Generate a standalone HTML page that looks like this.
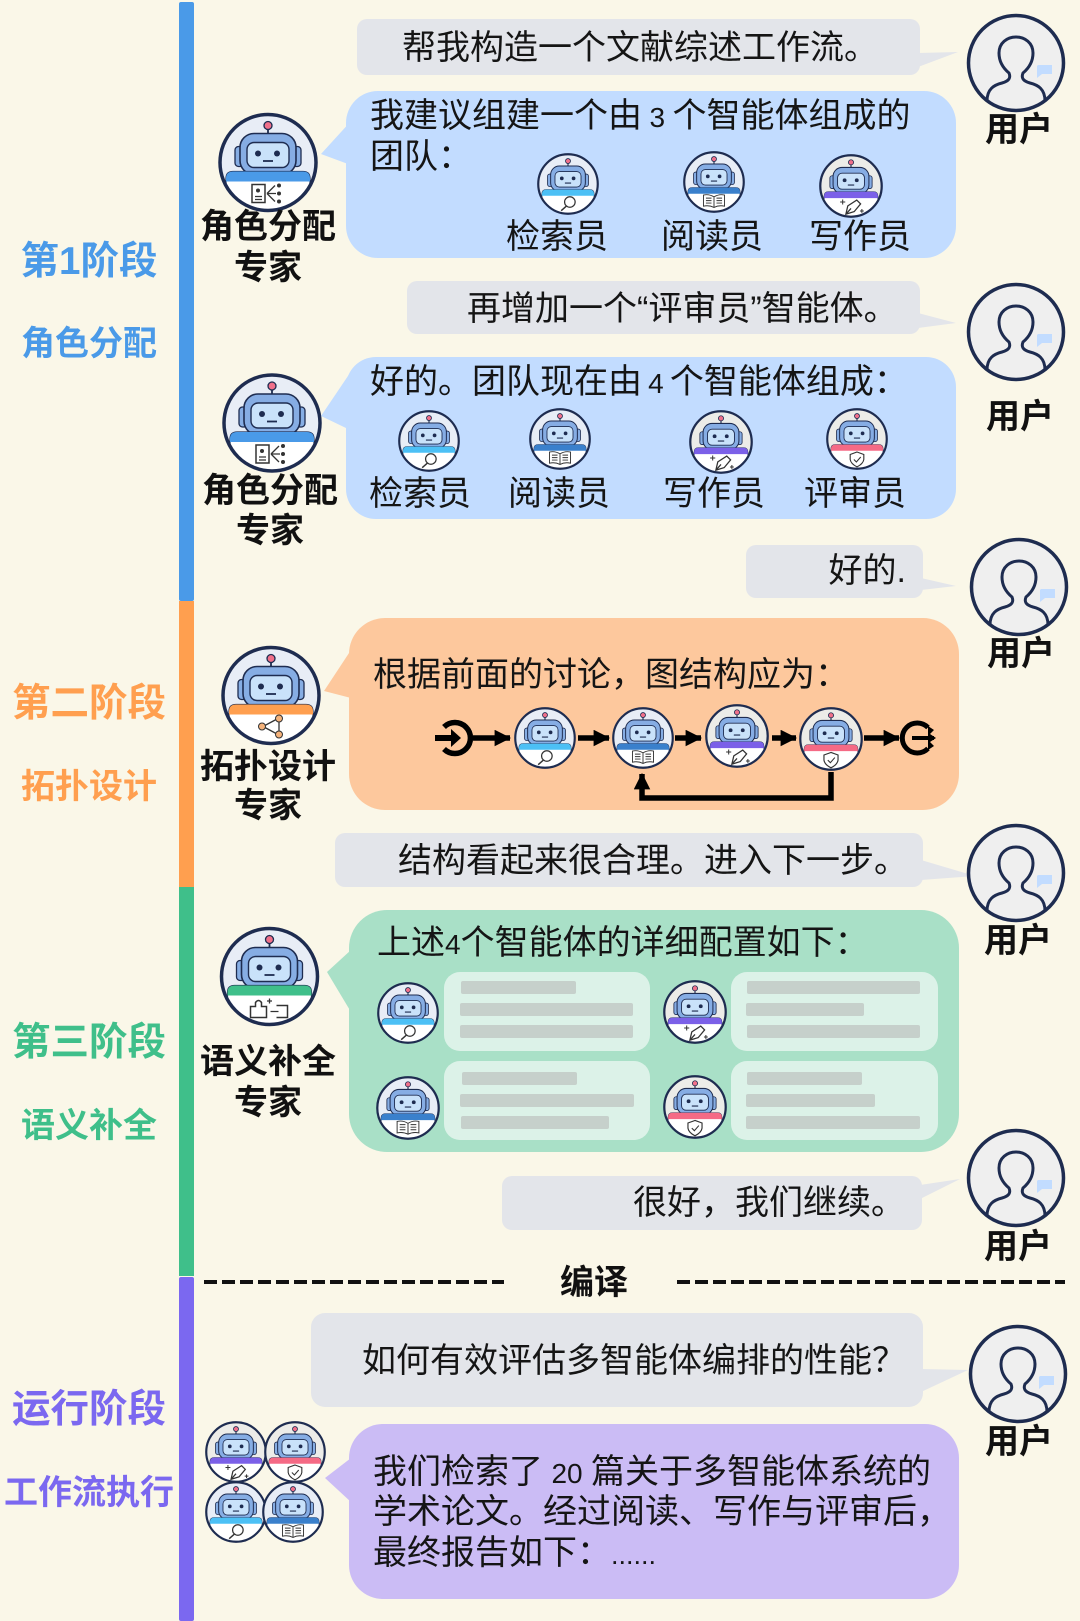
<!DOCTYPE html>
<html lang="zh"><head><meta charset="utf-8"><title>工作流</title>
<style>
html,body{margin:0;padding:0;background:#faf7e8}
svg{display:block}
text{font-family:"Liberation Sans","Noto Sans CJK SC",sans-serif}
.t{font-size:34px;fill:#151515}
.b{font-size:34px;font-weight:700;fill:#111;text-anchor:middle}
.c{text-anchor:middle}
.s1{font-weight:700;font-size:34px;text-anchor:middle}
.s2{font-weight:700;font-size:38.500px;text-anchor:middle}
.d{font-size:28px}
</style></head><body>
<svg xmlns="http://www.w3.org/2000/svg" width="1080" height="1621" viewBox="0 0 1080 1621">
<defs>
<clipPath id="cc"><circle r="48"/></clipPath>
<marker id="ah" markerWidth="3" markerHeight="3" refX="2.800" refY="1.500" orient="auto"><path d="M0 0L3 1.500L0 3z" fill="#000"/></marker>
<g id="bot">
 <circle r="48" fill="var(--bg,#e8edf6)"/>
 <path d="M0 -29V-34" stroke="#1e2c50" stroke-width="1.800"/>
 <circle cy="-37" r="4" fill="#f0708a" stroke="#1e2c50" stroke-width="1.300"/>
 <rect x="-33" y="-16" width="9" height="20" rx="3.500" fill="#86ade4" stroke="#1e2c50" stroke-width="1.300"/>
 <rect x="24" y="-16" width="9" height="20" rx="3.500" fill="#86ade4" stroke="#1e2c50" stroke-width="1.300"/>
 <rect x="-28" y="-29" width="56" height="41" rx="14" fill="#86ade4" stroke="#1e2c50" stroke-width="1.600"/>
 <rect x="-21" y="-20" width="42" height="25" rx="7" fill="#c9e2fa" stroke="#1e2c50" stroke-width="1.400"/>
 <circle cx="-10" cy="-9" r="3" fill="#1e2c50"/><circle cx="9" cy="-9" r="3" fill="#1e2c50"/>
 <path d="M-5 -1.500H5" stroke="#1e2c50" stroke-width="1.800"/>
</g>
<g id="ring"><circle r="48" fill="none" stroke="#1e2c50" stroke-width="3.500"/></g>
<g id="panel"><path d="M-42 60V16Q-42 9 -35 9H35Q42 9 42 16V60z" fill="#fff" stroke="#1e2c50" stroke-width="1.200"/></g>
<symbol id="r-role" viewBox="-50 -50 100 100"><use href="#bot"/><g clip-path="url(#cc)"><use href="#panel"/><path d="M-42 19V16Q-42 9 -35 9H35Q42 9 42 16V19z" fill="#4a9ae8"/></g>
 <rect x="-16" y="22" width="13" height="18" fill="none" stroke="#333" stroke-width="1.500"/><circle cx="-10" cy="28" r="2" fill="#333"/><path d="M-13 34H-6M-13 37H-6M-1 31L8 31M-1 31L7 23M-1 31L7 39" stroke="#333" stroke-width="1.300" fill="none"/><circle cx="11" cy="23" r="2" fill="#333"/><circle cx="11" cy="31" r="2" fill="#333"/><circle cx="11" cy="39" r="2" fill="#333"/><use href="#ring"/></symbol>
<symbol id="r-topo" viewBox="-50 -50 100 100"><use href="#bot"/><g clip-path="url(#cc)"><use href="#panel"/><path d="M-42 19V16Q-42 9 -35 9H35Q42 9 42 16V19z" fill="#ff9f4f"/></g>
 <path d="M-8 31L7 23M-8 31L7 39M8 23V39" stroke="#333" stroke-width="1.300" fill="none"/><circle cx="-9" cy="31" r="3.500" fill="#f5b27a" stroke="#333"/><circle cx="8" cy="23" r="3.500" fill="#f5b27a" stroke="#333"/><circle cx="8" cy="39" r="3.500" fill="#f5b27a" stroke="#333"/><use href="#ring"/></symbol>
<symbol id="r-sem" viewBox="-50 -50 100 100"><use href="#bot"/><g clip-path="url(#cc)"><use href="#panel"/><path d="M-42 19V16Q-42 9 -35 9H35Q42 9 42 16V19z" fill="#3fbf8a"/></g>
 <path d="M-19 41V30H-14V26Q-11 22 -8 26V30H-3V41z M7 29H18V41H7" fill="none" stroke="#333" stroke-width="1.500"/><path d="M1 35H9M0 22V27M-2.500 24.500H2.500" stroke="#333" stroke-width="1.300"/><use href="#ring"/></symbol>
<symbol id="r-search" viewBox="-50 -50 100 100"><use href="#bot"/><g clip-path="url(#cc)"><use href="#panel"/><path d="M-42 19V16Q-42 9 -35 9H35Q42 9 42 16V19z" fill="#4cc0f5"/></g>
 <circle cx="3" cy="29" r="8.500" fill="none" stroke="#333" stroke-width="2"/><path d="M-3 36L-11 43" stroke="#333" stroke-width="2.300"/><use href="#ring"/></symbol>
<symbol id="r-book" viewBox="-50 -50 100 100"><use href="#bot"/><g clip-path="url(#cc)"><use href="#panel"/><path d="M-42 19V16Q-42 9 -35 9H35Q42 9 42 16V19z" fill="#3a80cc"/></g>
 <path d="M0 24Q-8 19 -17 21V39Q-8 37 0 41Q8 37 17 39V21Q8 19 0 24zV41M-13 26H-4M-13 30H-4M-13 34H-4M4 26H13M4 30H13M4 34H13" fill="none" stroke="#333" stroke-width="1.500"/><use href="#ring"/></symbol>
<symbol id="r-pen" viewBox="-50 -50 100 100"><use href="#bot" style="--bg:#ecece8"/><g clip-path="url(#cc)"><use href="#panel"/><path d="M-42 19V16Q-42 9 -35 9H35Q42 9 42 16V19z" fill="#7b60e8"/></g>
 <path d="M9 22L15 28L5 40L-8 44L-5 31z M-8 44L0 35" fill="none" stroke="#333" stroke-width="2"/><path d="M-13 21V29M-17 25H-9M17 36V42M14 39H20" stroke="#333" stroke-width="1.600"/><use href="#ring"/></symbol>
<symbol id="r-shield" viewBox="-50 -50 100 100"><use href="#bot" style="--bg:#ecece8"/><g clip-path="url(#cc)"><use href="#panel"/><path d="M-42 19V16Q-42 9 -35 9H35Q42 9 42 16V19z" fill="#f56a85"/></g>
 <path d="M0 21L11 25V33Q10 40 0 45Q-10 40 -11 33V25z" fill="none" stroke="#333" stroke-width="1.800"/><path d="M-5 33L-1 37L6 29" fill="none" stroke="#333" stroke-width="1.700"/><use href="#ring"/></symbol>
<symbol id="user" viewBox="-50 -50 100 100"><circle r="47.500" fill="#efefef" stroke="#1e2c50" stroke-width="3.500"/>
 <path d="M-29 38C-29 26 -22 22 -14 20C-7 18 -5 15 -7 10C-13 5 -17 -2 -17 -10C-17 -20 -9 -26 0 -26C9 -26 17 -20 17 -10C17 -2 13 5 7 10C5 15 7 18 14 20C22 22 29 26 29 38" fill="none" stroke="#1e2c50" stroke-width="3"/>
 <path d="M22 2H36V11H26L21 15V3z" fill="#c2dcff"/></symbol>
</defs>
<rect width="1080" height="1621" fill="#faf7e8"/>

<!-- phase bars -->
<rect x="179" y="2" width="15" height="599" rx="2" fill="#4a9ae8"/>
<rect x="179" y="601" width="15" height="286" fill="#ff9f4f"/>
<rect x="179" y="887" width="15" height="389" fill="#3fbf8a"/>
<rect x="179" y="1277" width="15" height="344" rx="2" fill="#7b68f0"/>

<!-- phase labels -->
<text class="s2" x="89" y="274" fill="#4a9ae8">第1阶段</text>
<text class="s1" x="89" y="355" fill="#4a9ae8">角色分配</text>
<text class="s2" x="89" y="716" fill="#ff9f4f">第二阶段</text>
<text class="s1" x="89" y="798" fill="#ff9f4f">拓扑设计</text>
<text class="s2" x="89" y="1055" fill="#3fbf8a">第三阶段</text>
<text class="s1" x="89" y="1137" fill="#3fbf8a">语义补全</text>
<text class="s2" x="89" y="1422" fill="#7b68f0">运行阶段</text>
<text class="s1" x="89" y="1504" fill="#7b68f0">工作流执行</text>

<!-- gray bubbles + tails -->
<g fill="#e3e5ea">
<rect x="357" y="19" width="563" height="56" rx="10"/><path d="M918 53L958 52L918 67z"/>
<rect x="407" y="281" width="513" height="53" rx="10"/><path d="M918 313L956 323L918 328z"/>
<rect x="746" y="545" width="177" height="53" rx="10"/><path d="M921 578L956 586L921 590z"/>
<rect x="335" y="833" width="588" height="54" rx="10"/><path d="M921 860L975 876L921 880z"/>
<rect x="502" y="1176" width="420" height="54" rx="10"/><path d="M920 1185L960 1179L920 1199z"/>
<rect x="311" y="1313" width="612" height="94" rx="14"/><path d="M921 1369L968 1370L921 1392z"/>
</g>

<!-- colored bubbles -->
<rect x="346" y="91" width="610" height="167" rx="32" fill="#c2dcff"/><path d="M352 120L321 154L348 164z" fill="#c2dcff"/>
<rect x="346" y="357" width="610" height="162" rx="30" fill="#c2dcff"/><path d="M352 370L321 416L346 428z" fill="#c2dcff"/>
<rect x="349" y="618" width="610" height="192" rx="36" fill="#fdc89d"/><path d="M351 650L324 691L351 698z" fill="#fdc89d"/>
<rect x="349" y="910" width="610" height="242" rx="38" fill="#a9e0c7"/><path d="M351 950L327 972L351 1012z" fill="#a9e0c7"/>
<rect x="349" y="1424" width="610" height="175" rx="34" fill="#cbbcf5"/><path d="M351 1458L325 1478L351 1502z" fill="#cbbcf5"/>

<!-- users -->
<use href="#user" x="966" y="13" width="100" height="100"/>
<use href="#user" x="966" y="282" width="100" height="100"/>
<use href="#user" x="969" y="537" width="100" height="100"/>
<use href="#user" x="966" y="823" width="100" height="100"/>
<use href="#user" x="966" y="1128" width="100" height="100"/>
<use href="#user" x="968" y="1324" width="100" height="100"/>
<text class="b" x="1019" y="141">用户</text>
<text class="b" x="1020" y="428">用户</text>
<text class="b" x="1021" y="665">用户</text>
<text class="b" x="1018" y="952">用户</text>
<text class="b" x="1018" y="1258">用户</text>
<text class="b" x="1019" y="1453">用户</text>

<!-- gray texts -->
<text class="t" x="402" y="59">帮我构造一个文献综述工作流。</text>
<text class="t" x="467" y="320">再增加一个“评审员”智能体。</text>
<text class="t" x="906" y="582" text-anchor="end">好的.</text>
<text class="t" x="398" y="872">结构看起来很合理。进入下一步。</text>
<text class="t" x="633" y="1214">很好，我们继续。</text>
<text class="t" x="362" y="1372">如何有效评估多智能体编排的性能？</text>

<!-- block 1 -->
<use href="#r-role" x="218" y="112.500" width="100" height="100"/>
<text class="b" x="268" y="238">角色分配</text>
<text class="b" x="268" y="279">专家</text>
<text class="t" x="370" y="127" word-spacing="-2">我建议组建一个由 <tspan class="d">3</tspan> 个智能体组成的</text>
<text class="t" x="370" y="168">团队：</text>
<use href="#r-search" x="537" y="153" width="62" height="62"/>
<use href="#r-book" x="683" y="151" width="62" height="62"/>
<use href="#r-pen" x="819" y="154" width="64" height="64"/>
<text class="t c" x="557" y="248">检索员</text>
<text class="t c" x="712" y="248">阅读员</text>
<text class="t c" x="860" y="248">写作员</text>

<!-- block 2 -->
<use href="#r-role" x="222" y="373" width="100" height="100"/>
<text class="b" x="270" y="502">角色分配</text>
<text class="b" x="270" y="542">专家</text>
<text class="t" x="370" y="393" word-spacing="-3.300">好的。团队现在由 <tspan class="d">4</tspan> 个智能体组成：</text>
<use href="#r-search" x="398" y="410" width="62" height="62"/>
<use href="#r-book" x="529" y="408" width="62" height="62"/>
<use href="#r-pen" x="689" y="410" width="64" height="64"/>
<use href="#r-shield" x="826" y="408" width="62" height="62"/>
<text class="t c" x="420" y="505">检索员</text>
<text class="t c" x="559" y="505">阅读员</text>
<text class="t c" x="714" y="505">写作员</text>
<text class="t c" x="855" y="505">评审员</text>

<!-- block 3 -->
<use href="#r-topo" x="221" y="645.500" width="100" height="100"/>
<text class="b" x="268" y="778">拓扑设计</text>
<text class="b" x="268" y="817">专家</text>
<text class="t" x="373" y="686">根据前面的讨论，图结构应为：</text>
<g fill="none" stroke="#000">
 <path d="M444 727A15.500 15.500 0 1 1 444 749" stroke-width="5.500"/>
 <path d="M435 738H452" stroke-width="6"/>
 <path d="M451 729L461 738L451 747z" fill="#000" stroke="none"/>
 <path d="M928 727.500A15 15 0 1 0 928 748.500" stroke-width="5"/>
 <path d="M912 738H934" stroke-width="4"/>
 <path d="M928 726L934 730L930 734L936 738L930 742L934 746L928 750z" fill="#000" stroke="none"/>
 <g stroke-width="5.500">
 <path d="M473 738H510" marker-end="url(#ah)"/>
 <path d="M578 738H609" marker-end="url(#ah)"/>
 <path d="M675 738H701" marker-end="url(#ah)"/>
 <path d="M772 738H796" marker-end="url(#ah)"/>
 <path d="M864 738H899" marker-end="url(#ah)"/>
 <path d="M831 772V798H642V774" marker-end="url(#ah)"/>
 </g>
</g>
<use href="#r-search" x="514" y="707" width="62" height="62"/>
<use href="#r-book" x="612" y="707" width="62" height="62"/>
<use href="#r-pen" x="705" y="704" width="64" height="64"/>
<use href="#r-shield" x="799" y="707" width="64" height="64"/>

<!-- block 4 -->
<use href="#r-sem" x="219.500" y="926.500" width="100" height="100"/>
<text class="b" x="268" y="1073">语义补全</text>
<text class="b" x="268" y="1114">专家</text>
<text class="t" x="377" y="954">上述<tspan class="d">4</tspan>个智能体的详细配置如下：</text>
<g fill="#dcf2e8">
<rect x="444" y="972" width="206" height="79" rx="16"/>
<rect x="731" y="972" width="207" height="79" rx="16"/>
<rect x="444" y="1061" width="206" height="79" rx="16"/>
<rect x="731" y="1061" width="207" height="79" rx="16"/>
</g>
<g fill="#c6d0cb">
<rect x="461" y="981" width="115" height="13" rx="2"/><rect x="460" y="1003" width="173" height="13" rx="2"/><rect x="460" y="1025" width="173" height="13" rx="2"/>
<rect x="747" y="981" width="173" height="13" rx="2"/><rect x="746" y="1003" width="118" height="13" rx="2"/><rect x="747" y="1025" width="173" height="13" rx="2"/>
<rect x="462" y="1072" width="115" height="13" rx="2"/><rect x="460" y="1094" width="174" height="13" rx="2"/><rect x="461" y="1116" width="148" height="13" rx="2"/>
<rect x="747" y="1072" width="115" height="13" rx="2"/><rect x="746" y="1094" width="129" height="13" rx="2"/><rect x="746" y="1116" width="174" height="13" rx="2"/>
</g>
<use href="#r-search" x="377" y="982" width="62" height="62"/>
<use href="#r-pen" x="663" y="980" width="64" height="64"/>
<use href="#r-book" x="376" y="1076" width="64" height="64"/>
<use href="#r-shield" x="663" y="1075" width="64" height="64"/>

<!-- divider -->
<path d="M204 1282H504M677 1282H1065" stroke="#111" stroke-width="4" stroke-dasharray="13 5" fill="none"/>
<text class="b" x="594" y="1294">编译</text>

<!-- block 5 -->
<use href="#r-pen" x="205" y="1421" width="62" height="62"/>
<use href="#r-shield" x="264" y="1421" width="62" height="62"/>
<use href="#r-search" x="205" y="1481" width="62" height="62"/>
<use href="#r-book" x="262" y="1481" width="62" height="62"/>
<text class="t" x="373" y="1483" word-spacing="-1">我们检索了 <tspan class="d">20</tspan> 篇关于多智能体系统的</text>
<text class="t" x="373" y="1523">学术论文。经过阅读、写作与评审后，</text>
<text class="t" x="373" y="1564">最终报告如下：<tspan font-size="27">......</tspan></text>
</svg>
</body></html>
